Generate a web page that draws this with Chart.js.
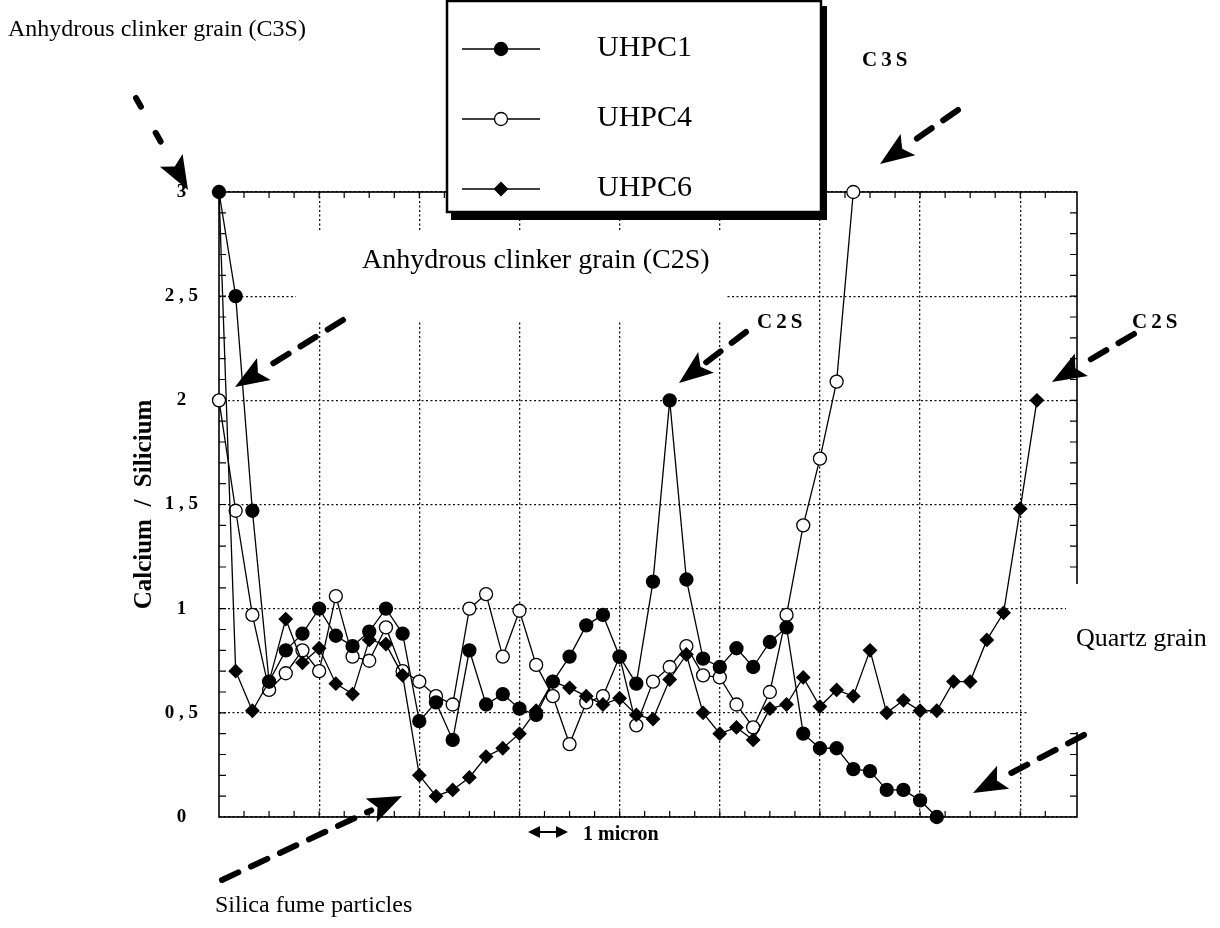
<!DOCTYPE html>
<html>
<head>
<meta charset="utf-8">
<script src="https://cdn.jsdelivr.net/npm/chart.js@4.4.1/dist/chart.umd.min.js"></script>
<style>
  html, body { margin: 0; padding: 0; background: #fff; }
  canvas { display: block; }
</style>
</head>
<body>
<canvas id="profileChart" width="1220" height="928"></canvas>
<script>
// Ca/Si ratio along the profile, one value per measuring step
const uhpc1 = [3, 2.5, 1.47, 0.65, 0.80, 0.88, 1.00, 0.87, 0.82, 0.89, 1.00, 0.88, 0.46, 0.55, 0.37, 0.80,
  0.54, 0.59, 0.52, 0.49, 0.65, 0.77, 0.92, 0.97, 0.77, 0.64, 1.13, 2.00, 1.14, 0.76, 0.72, 0.81,
  0.72, 0.84, 0.91, 0.40, 0.33, 0.33, 0.23, 0.22, 0.13, 0.13, 0.08, 0.00];
const uhpc4 = [2.0, 1.47, 0.97, 0.61, 0.69, 0.80, 0.70, 1.06, 0.77, 0.75, 0.91, 0.70, 0.65, 0.58, 0.54, 1.00,
  1.07, 0.77, 0.99, 0.73, 0.58, 0.35, 0.55, 0.58, 0.77, 0.44, 0.65, 0.72, 0.82, 0.68, 0.67, 0.54,
  0.43, 0.60, 0.97, 1.40, 1.72, 2.09, 3.0];
const uhpc6 = [3, 0.70, 0.51, 0.65, 0.95, 0.74, 0.81, 0.64, 0.59, 0.85, 0.83, 0.68, 0.20, 0.10, 0.13, 0.19,
  0.29, 0.33, 0.40, 0.51, 0.65, 0.62, 0.58, 0.54, 0.57, 0.49, 0.47, 0.66, 0.78, 0.50, 0.40, 0.43,
  0.37, 0.52, 0.54, 0.67, 0.53, 0.61, 0.58, 0.80, 0.50, 0.56, 0.51, 0.51, 0.65, 0.65, 0.85, 0.98,
  1.48, 2.00];

const seriesNames = ['UHPC1', 'UHPC4', 'UHPC6'];
const xGridLines = [6, 12, 18, 24, 30, 36, 42, 48];
const yTicks = [0, 0.5, 1, 1.5, 2, 2.5, 3];

const SERIF = "'Liberation Serif', 'Times New Roman', serif";

function toPoints(arr) {
  return arr.map((v, i) => ({ x: i, y: v }));
}

function dashedArrow(ctx, x1, y1, x2, y2, dash) {
  const ang = Math.atan2(y2 - y1, x2 - x1);
  const headLen = 34, headW = 13;
  const bx = x2 - Math.cos(ang) * headLen, by = y2 - Math.sin(ang) * headLen;
  ctx.save();
  ctx.strokeStyle = '#000';
  ctx.fillStyle = '#000';
  ctx.lineWidth = 6;
  ctx.lineCap = 'round';
  ctx.setLineDash(dash || [18, 14]);
  ctx.beginPath();
  ctx.moveTo(x1, y1);
  ctx.lineTo(bx, by);
  ctx.stroke();
  ctx.setLineDash([]);
  ctx.beginPath();
  ctx.moveTo(x2, y2);
  ctx.lineTo(bx + Math.sin(ang) * headW, by - Math.cos(ang) * headW);
  ctx.lineTo(bx + Math.cos(ang) * 7, by + Math.sin(ang) * 7);
  ctx.lineTo(bx - Math.sin(ang) * headW, by + Math.cos(ang) * headW);
  ctx.closePath();
  ctx.fill();
  ctx.restore();
}

function drawMarker(ctx, style, x, y) {
  ctx.save();
  ctx.lineWidth = 1.3;
  ctx.strokeStyle = '#000';
  ctx.beginPath();
  if (style === 'rectRot') {
    ctx.moveTo(x, y - 6.5); ctx.lineTo(x + 6.5, y); ctx.lineTo(x, y + 6.5); ctx.lineTo(x - 6.5, y);
    ctx.closePath();
    ctx.fillStyle = '#000';
  } else {
    ctx.arc(x, y, 6.5, 0, Math.PI * 2);
    ctx.fillStyle = style === 'open' ? '#fff' : '#000';
  }
  ctx.fill();
  ctx.stroke();
  ctx.restore();
}

// frame, minor ticks and the white patches behind labels
const framePlugin = {
  id: 'frame',
  beforeDatasetsDraw(chart) {
    const { ctx, chartArea: a, scales: { x, y } } = chart;
    ctx.save();
    ctx.strokeStyle = '#000';
    ctx.lineWidth = 1.6;
    ctx.strokeRect(a.left, a.top, a.right - a.left, a.bottom - a.top);
    ctx.lineWidth = 1.2;
    ctx.beginPath();
    for (let v = 0.1; v < 2.95; v += 0.1) {
      const py = y.getPixelForValue(v);
      ctx.moveTo(a.left, py); ctx.lineTo(a.left + 7, py);
      ctx.moveTo(a.right, py); ctx.lineTo(a.right - 7, py);
    }
    for (let v = 1.5; v < 51; v += 1.5) {
      const px = x.getPixelForValue(v);
      ctx.moveTo(px, a.top); ctx.lineTo(px, a.top + 6);
      ctx.moveTo(px, a.bottom); ctx.lineTo(px, a.bottom - 6);
    }
    ctx.stroke();
    ctx.fillStyle = '#fff';
    ctx.fillRect(296, 232, 430, 90);      // label "Anhydrous clinker grain (C2S)"
    ctx.fillRect(1028, 612, 192, 120);    // label "Quartz grain"
    ctx.fillRect(1066, 584, 24, 30);
    ctx.restore();
  },
  afterDatasetsDraw(chart) {
    const { ctx } = chart;
    ctx.save();
    // legend box with drop shadow
    ctx.fillStyle = '#000';
    ctx.fillRect(451, 6, 376, 214);
    ctx.fillStyle = '#fff';
    ctx.fillRect(447, 1, 374, 211);
    ctx.strokeStyle = '#000';
    ctx.lineWidth = 2.5;
    ctx.strokeRect(447, 1, 374, 211);
    const styles = ['filled', 'open', 'rectRot'];
    const rows = [49, 119, 189];
    ctx.font = '30px ' + SERIF;
    ctx.textBaseline = 'alphabetic';
    seriesNames.forEach((name, k) => {
      const ry = rows[k];
      ctx.lineWidth = 1.3;
      ctx.beginPath();
      ctx.moveTo(462, ry); ctx.lineTo(540, ry);
      ctx.stroke();
      drawMarker(ctx, styles[k], 501, ry);
      ctx.fillStyle = '#000';
      ctx.fillText(name, 597, ry + 7);
    });

    // annotations
    ctx.fillStyle = '#000';
    ctx.font = '24px ' + SERIF;
    ctx.fillText('Anhydrous clinker grain (C3S)', 8, 36);
    ctx.font = '28px ' + SERIF;
    ctx.fillText('Anhydrous clinker grain (C2S)', 362, 268);
    ctx.font = '26px ' + SERIF;
    ctx.fillText('Quartz grain', 1076, 646);
    ctx.font = '24px ' + SERIF;
    ctx.fillText('Silica fume particles', 215, 912);
    ctx.font = 'bold 21px ' + SERIF;
    ctx.letterSpacing = '4px';
    ctx.fillText('C3S', 862, 66);
    ctx.fillText('C2S', 757, 328);
    ctx.fillText('C2S', 1132, 328);
    ctx.letterSpacing = '0px';
    ctx.font = 'bold 20px ' + SERIF;
    ctx.fillText('1 micron', 583, 840);

    // 1 micron scale arrow
    ctx.lineWidth = 2;
    ctx.beginPath();
    ctx.moveTo(536, 832); ctx.lineTo(560, 832);
    ctx.stroke();
    ctx.beginPath();
    ctx.moveTo(528, 832); ctx.lineTo(540, 826); ctx.lineTo(540, 838); ctx.closePath();
    ctx.moveTo(568, 832); ctx.lineTo(556, 826); ctx.lineTo(556, 838); ctx.closePath();
    ctx.fill();

    dashedArrow(ctx, 136, 98, 188, 190, [10, 30]);
    dashedArrow(ctx, 343, 320, 235, 387);
    dashedArrow(ctx, 958, 110, 880, 164);
    dashedArrow(ctx, 746, 332, 679, 383);
    dashedArrow(ctx, 1134, 334, 1052, 382);
    dashedArrow(ctx, 1084, 735, 973, 793);
    dashedArrow(ctx, 222, 880, 402, 796);
    ctx.restore();
  }
};

const lineStyle = {
  borderColor: '#000',
  borderWidth: 1.3,
  pointRadius: 6.5,
  pointBorderColor: '#000',
  pointBorderWidth: 1.3,
  tension: 0,
  clip: false
};

const ctx = document.getElementById('profileChart').getContext('2d');
const profileChart = new Chart(ctx, {
  type: 'line',
  data: {
    datasets: [
      Object.assign({ label: seriesNames[0], data: toPoints(uhpc1), pointStyle: 'circle', pointBackgroundColor: '#000', order: 1 }, lineStyle),
      Object.assign({ label: seriesNames[1], data: toPoints(uhpc4), pointStyle: 'circle', pointBackgroundColor: '#fff', order: 2 }, lineStyle),
      Object.assign({ label: seriesNames[2], data: toPoints(uhpc6), pointStyle: 'rectRot', pointBackgroundColor: '#000', order: 0 }, lineStyle)
    ]
  },
  options: {
    responsive: false,
    animation: false,
    events: [],
    layout: { padding: { left: 126, top: 192, right: 143, bottom: 0 } },
    plugins: { legend: { display: false }, tooltip: { enabled: false } },
    scales: {
      x: {
        type: 'linear',
        min: 0,
        max: 51.4,
        afterBuildTicks: s => { s.ticks = xGridLines.map(v => ({ value: v })); },
        afterFit: s => { s.height = 111; },
        ticks: { display: false },
        grid: { color: '#111', lineWidth: 1.3, drawTicks: false },
        border: { display: false, dash: [2, 2.5] }
      },
      y: {
        min: 0,
        max: 3,
        afterBuildTicks: s => { s.ticks = yTicks.map(v => ({ value: v })); },
        afterFit: s => { s.width = 93; },
        ticks: {
          crossAlign: 'center',
          padding: 21,
          color: '#000',
          font: { family: SERIF, size: 19, weight: 'bold' },
          callback: v => String(v).replace('.', ' , ')
        },
        grid: { color: '#111', lineWidth: 1.3, drawTicks: false },
        border: { display: false, dash: [2, 2.5] },
        title: {
          display: true,
          text: 'Calcium  /  Silicium',
          color: '#000',
          font: { family: SERIF, size: 25, weight: 'bold' },
          padding: { top: 4, bottom: 4 }
        }
      }
    }
  },
  plugins: [framePlugin]
});
</script>
</body>
</html>
